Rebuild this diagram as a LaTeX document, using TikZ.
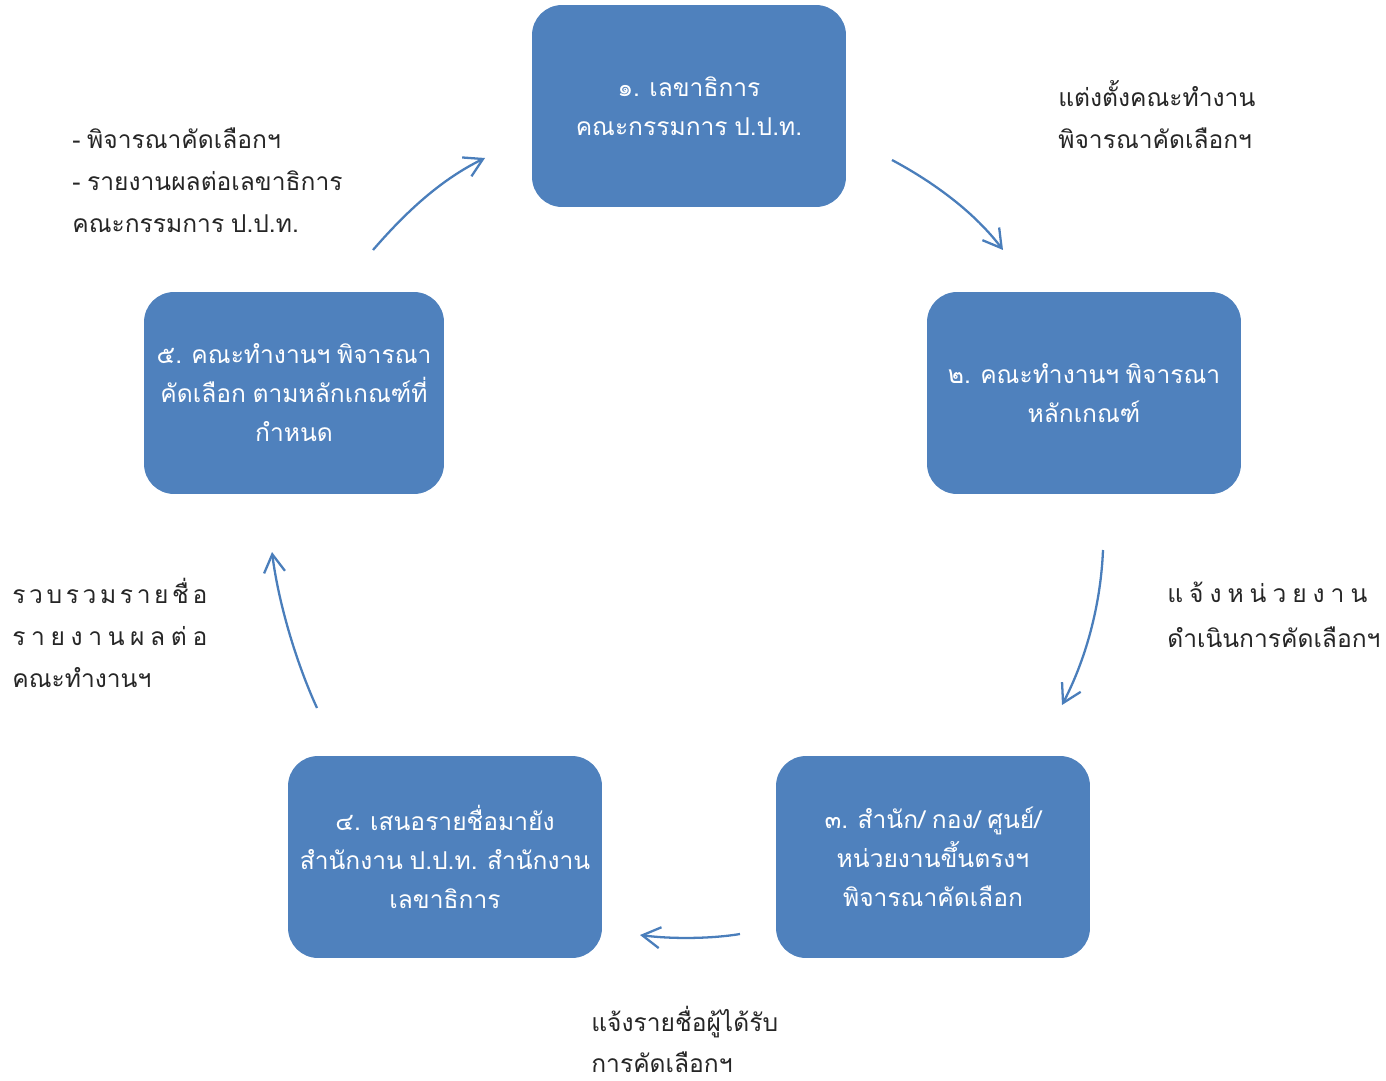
\documentclass[tikz,border=0pt]{standalone}
\usepackage{fontspec}
\usetikzlibrary{arrows.meta}
\newfontfamily\thai[Script=Thai,WordSpace=0.8]{Loma}
\definecolor{boxblue}{RGB}{79,129,189}
\definecolor{arrblue}{RGB}{74,126,187}
\newcommand{\gp}{\hspace{0pt plus 1fill}}
\begin{document}
\begin{tikzpicture}[x=0.02cm,y=-0.02cm,
  stepbox/.style={draw=none,fill=boxblue,rounded corners=0.6cm,minimum width=6.28cm,minimum height=4.04cm,text=white,align=center,font=\thai\fontsize{14}{22.2}\selectfont,inner sep=0pt},
  lbl/.style={anchor=north west,align=left,font=\thai\fontsize{14}{23.9}\selectfont,inner sep=0pt,text=black!85},
  flow/.style={draw=arrblue,line width=1.3pt,-{Straight Barb[length=0.36cm,width=0.42cm,line width=1.3pt]}}]
\useasboundingbox (0,0) rectangle (1386,1081);
\node[stepbox] (n1) at (689,106) {๑. เลขาธิการ\\คณะกรรมการ ป.ป.ท.};
\node[stepbox] (n2) at (1084,393) {๒. คณะทำงานฯ พิจารณา\\หลักเกณฑ์};
\node[stepbox] (n3) at (933,857) {๓. สำนัก/ กอง/ ศูนย์/\\หน่วยงานขึ้นตรงฯ\\พิจารณาคัดเลือก};
\node[stepbox] (n4) at (445,857) {๔. เสนอรายชื่อมายัง\\สำนักงาน ป.ป.ท. สำนักงาน\\เลขาธิการ};
\node[stepbox,minimum width=6.0cm] (n5) at (294,393) {๕. คณะทำงานฯ พิจารณา\\คัดเลือก ตามหลักเกณฑ์ที่\\กำหนด};
% labels
\node[lbl] (l12) at (1058,80) {แต่งตั้งคณะทำงาน\\พิจารณาคัดเลือกฯ};
\node[lbl] (l51) at (72,127) {- พิจารณาคัดเลือกฯ\\- รายงานผลต่อเลขาธิการ\\คณะกรรมการ ป.ป.ท.};
\node[lbl,font=\thai\fontsize{14}{25.5}\selectfont] (l23) at (1167,582) {\makebox[4cm][s]{แ\gp จ้\gp ง\gp ห\gp น่\gp ว\gp ย\gp ง\gp า\gp น}\\ดำเนินการคัดเลือกฯ};
\node[lbl] (l45) at (12,578) {\makebox[3.9cm][s]{ร\gp ว\gp บ\gp ร\gp ว\gp ม\gp ร\gp า\gp ย\gp ชื่\gp อ}\\\makebox[3.9cm][s]{ร\gp า\gp ย\gp ง\gp า\gp น\gp ผ\gp ล\gp ต่\gp อ}\\คณะทำงานฯ};
\node[lbl,font=\thai\fontsize{14}{23.2}\selectfont] (l34) at (591,1006) {แจ้งรายชื่อผู้ได้รับ\\การคัดเลือกฯ};
% arrow endpoints
\coordinate (a1s) at (892,160); \coordinate (a1e) at (1003,250);
\coordinate (a2s) at (1103,550); \coordinate (a2e) at (1062,705);
\coordinate (a3s) at (740,934); \coordinate (a3e) at (640,935);
\coordinate (a4s) at (317,708); \coordinate (a4e) at (272,552);
\coordinate (a5s) at (373,250); \coordinate (a5e) at (485,158);
\draw[flow] (a1s) .. controls (935,183) and (975,213) .. (a1e);
\draw[flow] (a2s) .. controls (1101,600) and (1088,655) .. (a2e);
\draw[flow] (a3s) .. controls (710,939) and (670,939) .. (a3e);
\draw[flow] (a4s) .. controls (295,660) and (278,600) .. (a4e);
\draw[flow] (a5s) .. controls (405,213) and (440,180) .. (a5e);
\end{tikzpicture}
\end{document}
